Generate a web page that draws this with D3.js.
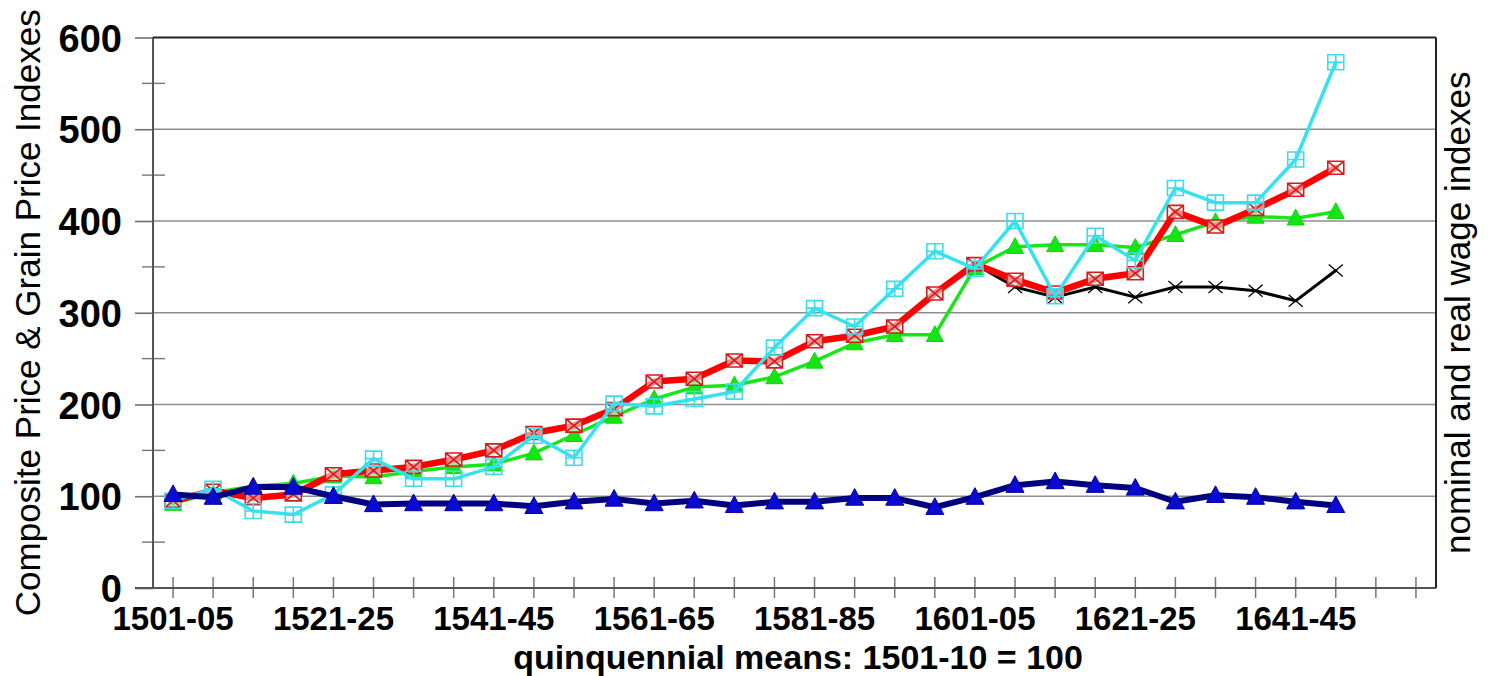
<!DOCTYPE html>
<html>
<head>
<meta charset="utf-8">
<script src="https://cdn.jsdelivr.net/npm/d3@7"></script>
<style>
  html, body { margin: 0; padding: 0; background: #fff; }
  svg { display: block; }
</style>
</head>
<body>
<svg id="chart" width="1496" height="676"></svg>
<script>
// Quinquennial periods on the category axis (the last two are left empty)
const periods = [
  "1501-05","1506-10","1511-15","1516-20","1521-25","1526-30","1531-35","1536-40",
  "1541-45","1546-50","1551-55","1556-60","1561-65","1566-70","1571-75","1576-80",
  "1581-85","1586-90","1591-95","1596-00","1601-05","1606-10","1611-15","1616-20",
  "1621-25","1626-30","1631-35","1636-40","1641-45","1646-50","1651-55","1656-60"
];
const labelledPeriods = ["1501-05","1521-25","1541-45","1561-65","1581-85","1601-05","1621-25","1641-45"];
const yTickValues = [0, 100, 200, 300, 400, 500, 600];
const yMinorValues = [50, 150, 250, 350, 450, 550];

// Index series, 1501-10 = 100
const compositePrice = [95,106,98,102,124,128,132,140,150,169,177,195,225,228,248,247,
                        269,275,285,321,353,336,322,337,343,410,394,413,434,458];
const compositePriceAlt = [95,106,98,102,124,128,132,140,150,169,177,195,225,228,248,247,
                           269,275,285,321,353,328,317,328,317,328,328,324,313,346];
const grainPrice = [95,108,84,80,102,141,119,119,132,166,142,201,198,206,214,262,
                    305,285,326,367,348,400,318,384,357,436,420,420,467,573];
const nominalWage = [92,104,111,114,122,121,127,132,135,147,167,187,206,219,221,230,
                     247,267,276,276,349,372,374,374,371,385,399,405,403,410];
const realWage = [102,99,110,110,100,91,92,92,92,89,94,97,92,95,90,94,
                  94,98,98,88,99,112,116,112,109,94,101,99,94,90];

const svg = d3.select("#chart");
const plot = { left: 153, right: 1436, top: 37.5, bottom: 588 };
const FONT = "'Liberation Sans', Arial, Helvetica, sans-serif";

const x = d3.scaleBand().domain(periods).range([plot.left, plot.right]).padding(0);
const cx = p => x(p) + x.bandwidth() / 2;
const y = d3.scaleLinear().domain([0, 600]).range([plot.bottom, plot.top]);

// gridlines
svg.append("g")
  .selectAll("line")
  .data(yTickValues.filter(v => v > 0 && v < 600))
  .join("line")
  .attr("x1", plot.left).attr("x2", plot.right)
  .attr("y1", d => y(d)).attr("y2", d => y(d))
  .attr("stroke", "#8e8e8e").attr("stroke-width", 1.6);

// left axis: major ticks outside, minor ticks crossing the axis line
const yAxis = svg.append("g").attr("transform", `translate(${plot.left},0)`)
  .call(d3.axisLeft(y).tickValues(yTickValues).tickSize(18).tickPadding(13).tickFormat(d3.format("d")));
yAxis.select(".domain").remove();
yAxis.selectAll(".tick line").attr("stroke", "#707070").attr("stroke-width", 1.6);
yAxis.selectAll(".tick text")
  .attr("font-family", FONT).attr("font-size", 38).attr("font-weight", "bold")
  .attr("fill", "#000").attr("dy", "0.36em");

svg.append("g")
  .selectAll("line")
  .data(yMinorValues)
  .join("line")
  .attr("x1", plot.left - 11).attr("x2", plot.left + 12)
  .attr("y1", d => y(d)).attr("y2", d => y(d))
  .attr("stroke", "#777").attr("stroke-width", 1.4);

// bottom axis: ticks crossing the axis line at every period
const xAxis = svg.append("g").attr("transform", `translate(0,${plot.bottom})`)
  .call(d3.axisBottom(x).tickSizeInner(10).tickSizeOuter(0).tickPadding(9)
    .tickFormat(d => labelledPeriods.includes(d) ? d : ""));
xAxis.select(".domain").remove();
xAxis.selectAll(".tick line").attr("y1", -11).attr("y2", 10)
  .attr("stroke", "#777").attr("stroke-width", 1.5);
xAxis.selectAll(".tick text")
  .attr("font-family", FONT).attr("font-size", 33).attr("font-weight", "bold")
  .attr("fill", "#000");

// frame
svg.append("line").attr("x1", plot.left - 18).attr("x2", plot.right)
  .attr("y1", plot.bottom).attr("y2", plot.bottom)
  .attr("stroke", "#555").attr("stroke-width", 2);
svg.append("line").attr("x1", plot.left).attr("x2", plot.left)
  .attr("y1", plot.top).attr("y2", plot.bottom)
  .attr("stroke", "#555").attr("stroke-width", 2);
svg.append("line").attr("x1", plot.left).attr("x2", plot.right)
  .attr("y1", plot.top).attr("y2", plot.top)
  .attr("stroke", "#222").attr("stroke-width", 2);
svg.append("line").attr("x1", plot.right).attr("x2", plot.right)
  .attr("y1", plot.top).attr("y2", plot.bottom)
  .attr("stroke", "#222").attr("stroke-width", 2);

// marker shapes
const markers = {
  boxX: (w, h) => `M${-w},${-h}H${w}V${h}H${-w}Z M${-w},${-h}L${w},${h} M${w},${-h}L${-w},${h}`,
  boxPlus: (w, h) => `M${-w},${-h}H${w}V${h}H${-w}Z M0,${-h}V${h} M${-w},0H${w}`,
  cross: (w, h) => `M${-w},${-h}L${w},${h} M${w},${-h}L${-w},${h}`,
  triangle: (w, h) => `M0,${-h}L${w},${h * 0.75}L${-w},${h * 0.75}Z`
};

const line = d3.line().x((d, i) => cx(periods[i])).y(d => y(d)).curve(d3.curveLinear);

function drawSeries(values, opt) {
  const g = svg.append("g");
  g.append("path").datum(values)
    .attr("d", line)
    .attr("fill", "none")
    .attr("stroke", opt.color)
    .attr("stroke-width", opt.width)
    .attr("stroke-linejoin", "round")
    .attr("stroke-linecap", "round");
  g.selectAll("path.mk").data(values).join("path")
    .attr("class", "mk")
    .attr("transform", (d, i) => `translate(${cx(periods[i])},${y(d)})`)
    .attr("d", markers[opt.marker](opt.mw, opt.mh))
    .attr("fill", opt.fill)
    .attr("fill-opacity", opt.fillOpacity == null ? 1 : opt.fillOpacity)
    .attr("stroke", opt.mstroke)
    .attr("stroke-width", opt.mwidth);
}

drawSeries(compositePriceAlt, { color: "#000", width: 3, marker: "cross", mw: 7, mh: 6,
  fill: "none", mstroke: "#000", mwidth: 1.3 });
drawSeries(nominalWage, { color: "#19e619", width: 3.5, marker: "triangle", mw: 8.5, mh: 9,
  fill: "#14e614", mstroke: "#10d010", mwidth: 1 });
drawSeries(compositePrice, { color: "#ff0000", width: 6.5, marker: "boxX", mw: 8, mh: 6.5,
  fill: "#fff", fillOpacity: 0.55, mstroke: "#d41c1c", mwidth: 1.6 });
drawSeries(grainPrice, { color: "#35e2ee", width: 3.5, marker: "boxPlus", mw: 8, mh: 7.5,
  fill: "none", mstroke: "#3cdcea", mwidth: 1.6 });
drawSeries(realWage, { color: "#000080", width: 6, marker: "triangle", mw: 9, mh: 9.5,
  fill: "#0a0ad2", mstroke: "#0000a0", mwidth: 1 });

// axis titles
svg.append("text")
  .attr("transform", `translate(40,${(plot.top + plot.bottom) / 2}) rotate(-90)`)
  .attr("text-anchor", "middle")
  .attr("font-family", FONT).attr("font-size", 35)
  .attr("fill", "#000")
  .text("Composite Price & Grain Price Indexes");

svg.append("text")
  .attr("transform", `translate(1470,${(plot.top + plot.bottom) / 2}) rotate(-90)`)
  .attr("text-anchor", "middle")
  .attr("font-family", FONT).attr("font-size", 35)
  .attr("fill", "#000")
  .text("nominal and real wage indexes");

svg.append("text")
  .attr("x", 798).attr("y", 669)
  .attr("text-anchor", "middle")
  .attr("font-family", FONT).attr("font-size", 34).attr("font-weight", "bold")
  .attr("fill", "#000")
  .text("quinquennial means: 1501-10 = 100");
</script>
</body>
</html>
